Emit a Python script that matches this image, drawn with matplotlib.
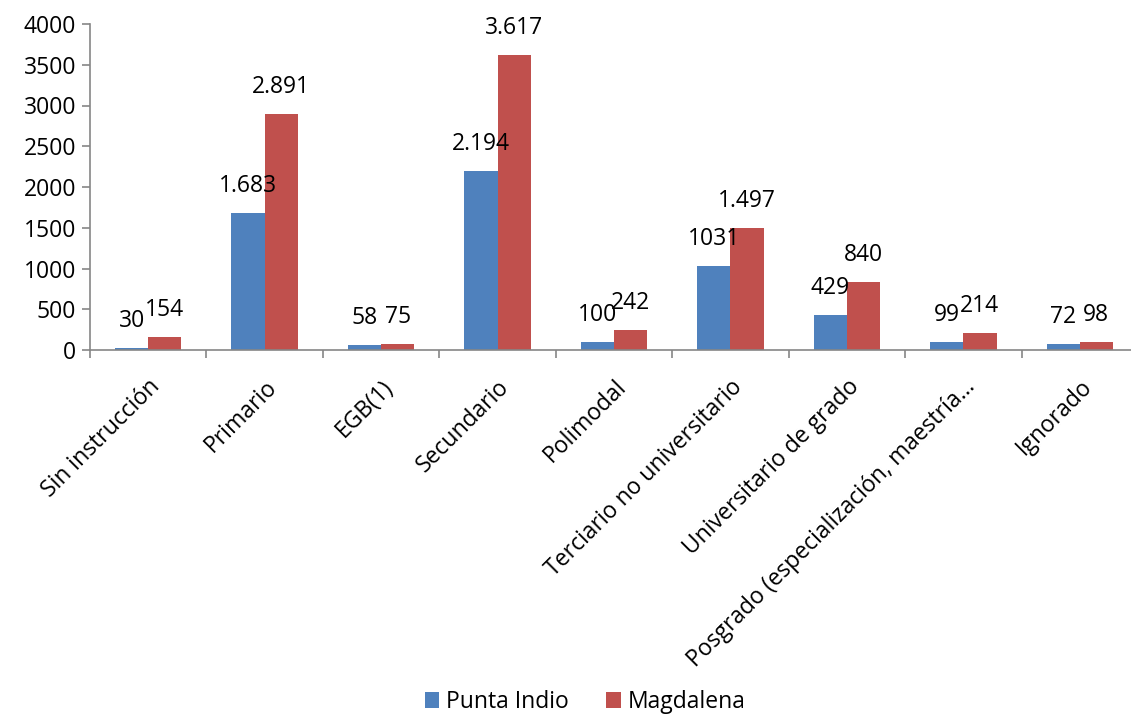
import matplotlib; matplotlib.use('Agg')
import matplotlib.pyplot as plt
import numpy as np

plt.rcParams.update({
    'font.family': ['Open Sans', 'DejaVu Sans'],
    'font.size': 16.5,
})

categorias = ['Sin instrucción', 'Primario', 'EGB(1)', 'Secundario', 'Polimodal',
              'Terciario no universitario', 'Universitario de grado',
              'Posgrado (especialización, maestría…', 'Ignorado']
punta_indio = [30, 1683, 58, 2194, 100, 1031, 429, 99, 72]
magdalena = [154, 2891, 75, 3617, 242, 1497, 840, 214, 98]
etiq_punta = ['30', '1.683', '58', '2.194', '100', '1031', '429', '99', '72']
etiq_magd = ['154', '2.891', '75', '3.617', '242', '1.497', '840', '214', '98']

fig = plt.figure(figsize=(11.31, 7.15), dpi=100)
ax = fig.add_axes([90/1131, 1 - 350/715, 1048/1131, 326/715])

x = np.arange(len(categorias))
w = 0.285
b1 = ax.bar(x - w/2, punta_indio, w, color='#4F81BD', label='Punta Indio')
b2 = ax.bar(x + w/2, magdalena, w, color='#C0504D', label='Magdalena')

for bars, labels in ((b1, etiq_punta), (b2, etiq_magd)):
    for r, t in zip(bars, labels):
        ax.annotate(t, (r.get_x() + r.get_width()/2, r.get_height()),
                    xytext=(0, 27), textcoords='offset pixels',
                    ha='center', va='center', fontsize=16.5)

ax.set_xlim(-0.5, len(categorias) - 0.5)
ax.set_ylim(0, 4000)
ax.set_yticks(np.arange(0, 4001, 500))
ax.set_xticks(x)
ax.set_xticklabels(categorias, rotation=45, ha='right', rotation_mode='anchor')
ax.set_xticks(np.arange(-0.5, len(categorias)), minor=True)
ax.tick_params(axis='x', which='major', length=0, pad=18)
ax.tick_params(axis='x', which='minor', length=6, color='#868686', width=1.2)
ax.tick_params(axis='y', length=6, color='#868686', width=1.2, pad=4)

for s in ('top', 'right'):
    ax.spines[s].set_visible(False)
for s in ('left', 'bottom'):
    ax.spines[s].set_color('#868686')
    ax.spines[s].set_linewidth(1.2)

fig.legend(handles=[b1, b2], loc='center', bbox_to_anchor=(585/1131, 1 - 702/715),
           ncol=2, frameon=False, fontsize=16.5, handlelength=0.65, handleheight=0.65,
           handletextpad=0.3, columnspacing=1.6)

fig.savefig('out.png', dpi=100)
